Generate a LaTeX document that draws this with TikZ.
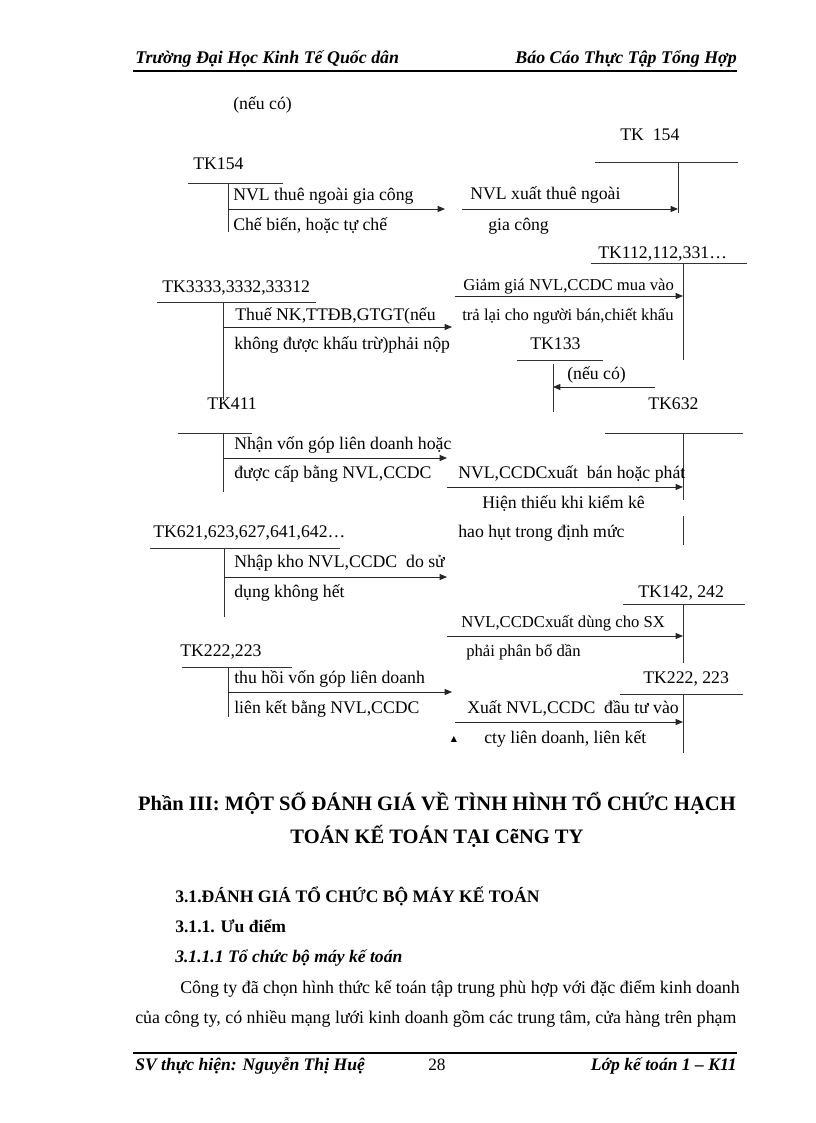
\documentclass[tikz,border=0pt]{standalone}
\usepackage{fontspec}
\setmainfont{Liberation Serif}
\newfontfamily\symfont{DejaVu Sans}
\usetikzlibrary{arrows.meta}
\begin{document}
\begin{tikzpicture}[x=0.75pt,y=-0.75pt,
  lbl/.style={anchor=base west, inner sep=0pt, font=\fontsize{13.3}{15}\selectfont},
  sml/.style={anchor=base west, inner sep=0pt, font=\fontsize{12.5}{14}\selectfont},
  acc/.style={line width=0.6pt, draw=black!80},
  arr/.style={line width=0.6pt, draw=black!85, -{Triangle[length=5.5pt,width=4.5pt]}},
  hdr/.style={inner sep=0pt, font=\fontsize{13.4}{15}\selectfont\bfseries\itshape},
  body/.style={anchor=base west, inner sep=0pt, font=\fontsize{13.4}{15}\selectfont}]
\useasboundingbox (0,0) rectangle (816,1123);
\fill[white] (0,0) rectangle (816,1123);
% header / footer
\node[hdr, anchor=base west] (h1) at (135,64) {Trường Đại Học Kinh Tế Quốc dân};
\node[hdr, anchor=base east] (h2) at (737,64) {Báo Cáo Thực Tập Tổng Hợp};
\coordinate (hl1) at (133,71); \coordinate (hl2) at (737,71);
\draw[line width=1.5pt] (hl1) -- (hl2);
\coordinate (fl1) at (133,1053); \coordinate (fl2) at (737,1053);
\draw[line width=1.5pt] (fl1) -- (fl2);
\node[hdr, font=\fontsize{13.2}{15}\selectfont\bfseries\itshape, anchor=base west] (f1) at (135,1070) {SV thực hiện: Nguyễn Thị Huệ};
\node[anchor=base west, inner sep=0pt, font=\fontsize{13}{14}\selectfont] (f2) at (428,1070) {28};
\node[hdr, font=\fontsize{13.2}{15}\selectfont\bfseries\itshape, anchor=base east] (f3) at (737,1070) {Lớp kế toán 1 – K11};

% top note
\node[lbl] (n0) at (233,110) {(nếu có)};

% Block 1: TK154 -> TK 154
\node[lbl] (tk154b) at (620,141) {TK\ \ 154};
\coordinate (r1a) at (595,162); \coordinate (r1b) at (738,162);
\coordinate (r1t) at (678,163); \coordinate (r1d) at (678,213);
\draw[acc] (r1a) -- (r1b); \draw[acc] (r1t) -- (r1d);
\node[lbl] (tk154a) at (193,170) {TK154};
\coordinate (l1a) at (188,183); \coordinate (l1b) at (283,183);
\coordinate (l1t) at (228,183); \coordinate (l1d) at (228,232);
\draw[acc] (l1a) -- (l1b); \draw[acc] (l1t) -- (l1d);
\node[lbl] (t1a) at (233,201) {NVL thuê ngoài gia công};
\node[lbl] (t1b) at (233,230) {Chế biến, hoặc tự chế};
\coordinate (a1s) at (228,209); \coordinate (a1e) at (445,209);
\draw[arr] (a1s) -- (a1e);
\node[lbl] (t1c) at (470,200) {NVL xuất thuê ngoài};
\node[lbl] (t1d) at (488,231) {gia công};
\coordinate (a2s) at (462,209); \coordinate (a2e) at (678,209);
\draw[arr] (a2s) -- (a2e);

% Block 2
\node[lbl] (tk112) at (598,258) {TK112,112,331…};
\coordinate (r2a) at (591,263); \coordinate (r2b) at (747,263);
\coordinate (r2t) at (683,263); \coordinate (r2d) at (683,360);
\draw[acc] (r2a) -- (r2b); \draw[acc] (r2t) -- (r2d);
\node[lbl] (tk3333) at (162,292) {TK3333,3332,33312};
\coordinate (l2a) at (157,302); \coordinate (l2b) at (316,302);
\coordinate (l2t) at (223,302); \coordinate (l2d) at (223,400);
\draw[acc] (l2a) -- (l2b); \draw[acc] (l2t) -- (l2d);
\node[lbl] (t2a) at (235,320) {Thuế NK,TTĐB,GTGT(nếu};
\node[lbl] (t2b) at (234,349) {không được khấu trừ)phải nộp};
\coordinate (a3s) at (223,327); \coordinate (a3e) at (452,327);
\draw[arr] (a3s) -- (a3e);
\node[sml] (t2c) at (463,290) {Giảm giá NVL,CCDC mua vào};
\node[sml] (t2d) at (462,320) {trả lại cho người bán,chiết khấu};
\coordinate (a4s) at (455,296); \coordinate (a4e) at (683,296);
\draw[arr] (a4s) -- (a4e);
\node[lbl] (tk133) at (530,349) {TK133};
\coordinate (r3a) at (517,360); \coordinate (r3b) at (603,360);
\coordinate (r3t) at (553,364); \coordinate (r3d) at (553,412);
\draw[acc] (r3a) -- (r3b); \draw[acc] (r3t) -- (r3d);
\node[lbl] (n1) at (567,379) {(nếu có)};
\coordinate (a5s) at (655,387); \coordinate (a5e) at (553,387);
\draw[arr] (a5s) -- (a5e);
\node[lbl] (tk632) at (648,409) {TK632};
\node[lbl] (tk411) at (207,409) {TK411};

% Block 3
\coordinate (l3a) at (178,433); \coordinate (l3b) at (252,433);
\coordinate (l3t) at (223,433); \coordinate (l3d) at (223,492);
\draw[acc] (l3a) -- (l3b); \draw[acc] (l3t) -- (l3d);
\node[lbl] (t3a) at (234,449) {Nhận vốn góp liên doanh hoặc};
\node[lbl] (t3b) at (234,478) {được cấp bằng NVL,CCDC};
\coordinate (a6s) at (223,458); \coordinate (a6e) at (447,458);
\draw[arr] (a6s) -- (a6e);
\coordinate (r4a) at (605,433); \coordinate (r4b) at (743,433);
\coordinate (r4t) at (683,433); \coordinate (r4d) at (683,500);
\coordinate (r4u) at (683,516); \coordinate (r4v) at (683,545);
\draw[acc] (r4a) -- (r4b); \draw[acc] (r4t) -- (r4d); \draw[acc] (r4u) -- (r4v);
\node[lbl] (t3c) at (458,478) {NVL,CCDCxuất\ \ bán hoặc phát};
\coordinate (a7s) at (447,487); \coordinate (a7e) at (683,487);
\draw[arr] (a7s) -- (a7e);
\node[lbl] (t3d) at (482,508) {Hiện thiếu khi kiểm kê};
\node[lbl] (t3e) at (458,537) {hao hụt trong định mức};

% Block 4
\node[lbl] (tk621) at (153,537) {TK621,623,627,641,642…};
\coordinate (l4a) at (150,548); \coordinate (l4b) at (340,548);
\coordinate (l4t) at (224,548); \coordinate (l4d) at (224,617);
\draw[acc] (l4a) -- (l4b); \draw[acc] (l4t) -- (l4d);
\node[lbl] (t4a) at (234,567) {Nhập kho NVL,CCDC\ \ do sử};
\node[lbl] (t4b) at (234,597) {dụng không hết};
\coordinate (a8s) at (224,577); \coordinate (a8e) at (447,577);
\draw[arr] (a8s) -- (a8e);
\node[lbl] (tk142) at (638,597) {TK142, 242};
\coordinate (r5a) at (623,604); \coordinate (r5b) at (745,604);
\coordinate (r5t) at (683,604); \coordinate (r5d) at (683,663);
\draw[acc] (r5a) -- (r5b); \draw[acc] (r5t) -- (r5d);
\node[sml] (t4c) at (461,627) {NVL,CCDCxuất dùng cho SX};
\node[sml] (t4d) at (466,656) {phải phân bổ dần};
\coordinate (a9s) at (447,636); \coordinate (a9e) at (683,636);
\draw[arr] (a9s) -- (a9e);

% Block 5
\node[lbl] (tk222a) at (180,656) {TK222,223};
\coordinate (l5a) at (182,667); \coordinate (l5b) at (292,667);
\coordinate (l5t) at (228,667); \coordinate (l5d) at (228,717);
\draw[acc] (l5a) -- (l5b); \draw[acc] (l5t) -- (l5d);
\node[lbl] (t5a) at (234,683) {thu hồi vốn góp liên doanh};
\node[lbl] (t5b) at (234,713) {liên kết bằng NVL,CCDC};
\coordinate (a10s) at (228,692); \coordinate (a10e) at (452,692);
\draw[arr] (a10s) -- (a10e);
\node[lbl] (tk222b) at (643,683) {TK222, 223};
\coordinate (r6a) at (620,694); \coordinate (r6b) at (743,694);
\coordinate (r6t) at (683,694); \coordinate (r6d) at (683,753);
\draw[acc] (r6a) -- (r6b); \draw[acc] (r6t) -- (r6d);
\node[lbl] (t5c) at (467,713) {Xuất NVL,CCDC\ \ đầu tư vào};
\coordinate (a11s) at (455,722); \coordinate (a11e) at (683,722);
\draw[arr] (a11s) -- (a11e);
\node[inner sep=0pt, font=\symfont\fontsize{6}{7}\selectfont] (tri) at (454,739) {▲};
\node[lbl] (t5d) at (484,743) {cty liên doanh, liên kết};

% Title
\node[inner sep=0pt, anchor=base, font=\fontsize{15.4}{17}\selectfont\bfseries] (ti1) at (437,810) {Phần III: MỘT SỐ ĐÁNH GIÁ VỀ TÌNH HÌNH TỔ CHỨC HẠCH};
\node[inner sep=0pt, anchor=base, font=\fontsize{15.4}{17}\selectfont\bfseries] (ti2) at (437,843) {TOÁN KẾ TOÁN TẠI CẽNG TY};

% Section text
\node[body, font=\fontsize{13.2}{15}\selectfont\bfseries] (s1) at (175,902) {3.1.ĐÁNH GIÁ TỔ CHỨC BỘ MÁY KẾ TOÁN};
\node[body, font=\fontsize{13.2}{15}\selectfont\bfseries] (s2) at (175,932) {3.1.1. Ưu điểm};
\node[body, font=\fontsize{13.2}{15}\selectfont\bfseries\itshape] (s3) at (175,962) {3.1.1.1 Tổ chức bộ máy kế toán};
\node[body] (p1) at (180,993) {Công ty đã chọn hình thức kế toán tập trung phù hợp với đặc điểm kinh doanh};
\node[body] (p2) at (135,1023) {của công ty, có nhiều mạng lưới kinh doanh gồm các trung tâm, cửa hàng trên phạm};
\end{tikzpicture}
\end{document}
